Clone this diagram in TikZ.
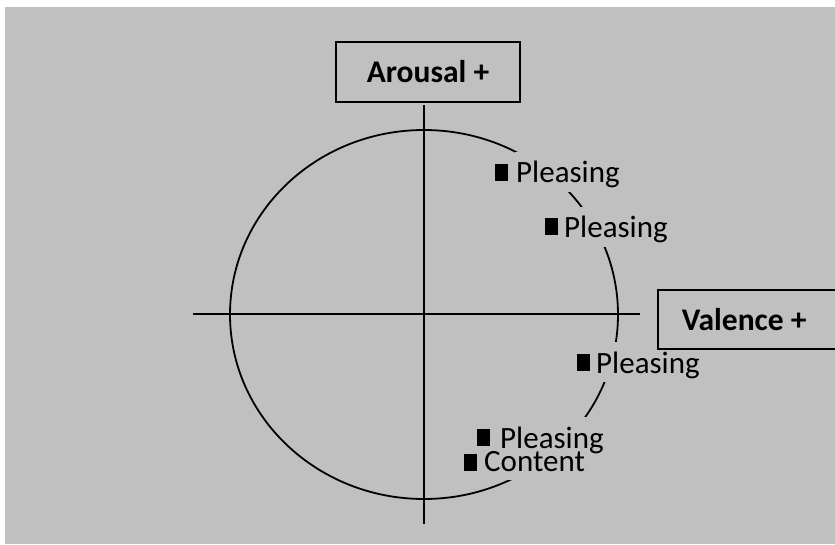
\documentclass[tikz,border=0pt]{standalone}
\usepackage{fontspec}
\setmainfont{Carlito}
\definecolor{bg}{RGB}{192,192,192}
\tikzset{
  lbl/.style={fill=bg, inner xsep=1pt, inner ysep=0pt, text height=31pt, text depth=9pt,
    anchor=base west, font=\fontsize{31}{31}\selectfont},
  axisbox/.style={draw, line width=1.5pt, fill=bg, inner sep=0pt,
    font=\fontsize{31.5}{31.5}\selectfont\bfseries},
  bullet/.style={fill=black, draw=none, inner sep=0pt, minimum width=13pt, minimum height=17pt},
  axis/.style={line width=1.6pt},
}
\begin{document}
\begin{tikzpicture}[x=1pt,y=-1pt]
\useasboundingbox (0,0) rectangle (835,545);
\clip (0,0) rectangle (835,545);
\fill[white] (0,0) rectangle (835,545);
\fill[bg] (5,7) rectangle (835,544);
% axes
\coordinate (hl) at (193,314);
\coordinate (hr) at (640,314);
\coordinate (vt) at (424,105);
\coordinate (vb) at (424,524);
\draw[axis] (hl) -- (hr);
\draw[axis] (vt) -- (vb);
% circle
\coordinate (c) at (424,314.5);
\draw[line width=1.8pt] (c) ellipse [x radius=194pt, y radius=184.5pt];
% labels
\node[lbl] (p1) at (515,183) {Pleasing};
\node[bullet, anchor=north west] (b1) at (495,164) {};
\node[lbl] (p2) at (563,238) {Pleasing};
\node[bullet, anchor=north west] (b2) at (545,218) {};
\node[lbl] (p3) at (595,373) {Pleasing};
\node[bullet, anchor=north west] (b3) at (577,354) {};
\node[lbl] (c5) at (483,471) {Content};
\node[lbl, text depth=0pt] (p4) at (499,448) {Pleasing};
\node[bullet, anchor=north west] (b4) at (477,429) {};
\node[bullet, anchor=north west] (b5) at (464,454) {};
% axis boxes
\node[axisbox, minimum width=184pt, minimum height=60pt] (arousal) at (428,72) {Arousal +};
\node[axisbox, anchor=west, inner xsep=24pt, minimum height=59pt] (valence) at (657,319.5)
  {\makebox[150pt][l]{Valence +}};
\end{tikzpicture}
\end{document}
